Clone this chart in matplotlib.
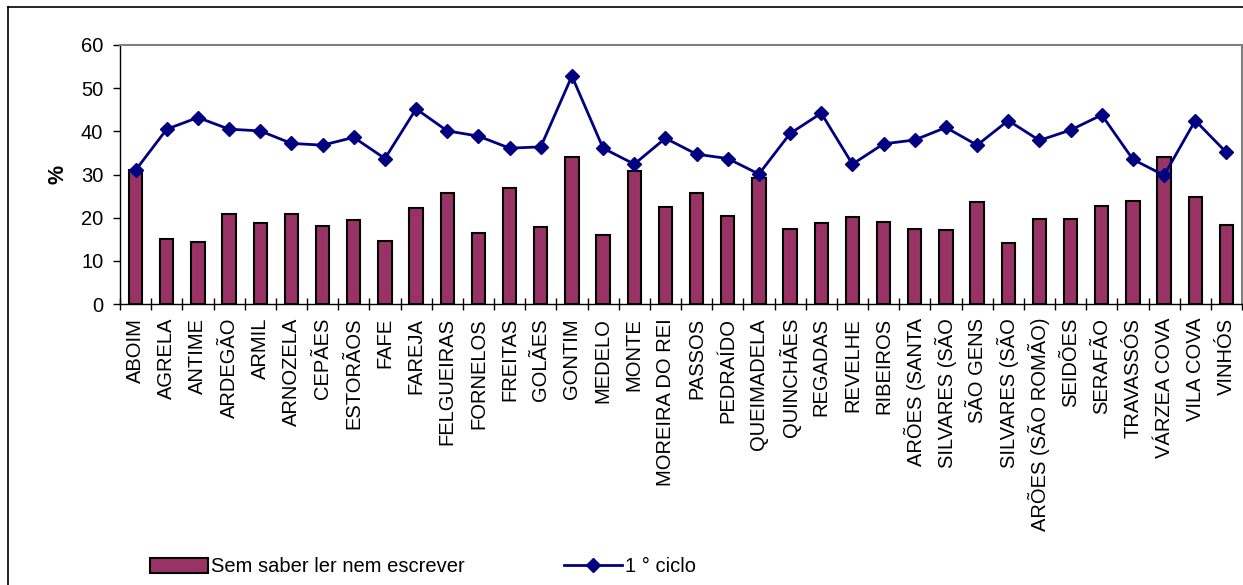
import numpy as np
import matplotlib
matplotlib.use("Agg")
import matplotlib.pyplot as plt
from matplotlib.lines import Line2D
from matplotlib.patches import Patch

plt.rcParams["font.family"] = ["Liberation Sans", "DejaVu Sans"]

freguesias = ["ABOIM", "AGRELA", "ANTIME", "ARDEGÃO", "ARMIL", "ARNOZELA", "CEPÃES",
              "ESTORÃOS", "FAFE", "FAREJA", "FELGUEIRAS", "FORNELOS", "FREITAS",
              "GOLÃES", "GONTIM", "MEDELO", "MONTE", "MOREIRA DO REI", "PASSOS",
              "PEDRAÍDO", "QUEIMADELA", "QUINCHÃES", "REGADAS", "REVELHE", "RIBEIROS",
              "ARÕES (SANTA", "SILVARES (SÃO", "SÃO GENS", "SILVARES (SÃO",
              "ARÕES (SÃO ROMÃO)", "SEIDÕES", "SERAFÃO", "TRAVASSÓS", "VÁRZEA COVA",
              "VILA COVA", "VINHÓS"]

sem_saber = [31.0, 15.0, 14.4, 20.8, 18.7, 20.9, 18.0, 19.5, 14.6, 22.2, 25.8, 16.4,
             26.9, 17.8, 34.1, 16.1, 30.9, 22.5, 25.8, 20.4, 29.1, 17.4, 18.8, 20.2,
             19.0, 17.3, 17.1, 23.6, 14.1, 19.8, 19.8, 22.6, 23.9, 34.1, 24.9, 18.3]

ciclo1 = [31.0, 40.5, 43.2, 40.5, 40.1, 37.2, 36.8, 38.6, 33.7, 45.2, 40.1, 38.9,
          36.1, 36.4, 52.8, 36.1, 32.4, 38.4, 34.7, 33.7, 30.1, 39.5, 44.2, 32.4,
          37.1, 38.0, 40.9, 36.8, 42.5, 37.9, 40.3, 43.8, 33.5, 29.8, 42.5, 35.1]

C_BAR  = "#993366"
C_LINE = "#000080"
FS = 14.5

W, H = 1243, 585
fig = plt.figure(figsize=(W / 100, H / 100), dpi=100)
ax = fig.add_axes([120 / W, 1 - 304 / H, (1242 - 120) / W, (304 - 45) / H])

x = np.arange(len(freguesias))
ax.bar(x, sem_saber, width=0.43, color=C_BAR, edgecolor="black", linewidth=1.5,
       zorder=2)
ax.plot(x, ciclo1, "-D", color=C_LINE, linewidth=2, markersize=7.5, zorder=3)

ax.set_xlim(-0.5, len(freguesias) - 0.5)
ax.set_ylim(0, 60)
ax.set_yticks(np.arange(0, 61, 10))
ax.set_xticks(x)
ax.set_xticklabels(freguesias, rotation=90, fontsize=FS)
ax.set_xticks(np.arange(-0.5, len(freguesias)), minor=True)
ax.tick_params(axis="x", which="major", length=0, pad=10)
ax.tick_params(axis="x", which="minor", direction="inout", length=8, width=1)
ax.tick_params(axis="y", labelsize=FS, length=5, width=1, pad=7)
ax.set_ylabel("%", fontsize=FS + 1, fontweight="bold", labelpad=9)

for s in ["top", "right"]:
    ax.spines[s].set_color("#808080")
    ax.spines[s].set_linewidth(1.5)
for s in ["left", "bottom"]:
    ax.spines[s].set_color("black")
    ax.spines[s].set_linewidth(1)

handles = [Patch(facecolor=C_BAR, edgecolor="black", linewidth=1.5),
           Line2D([], [], color=C_LINE, marker="D", linewidth=2, markersize=7.5)]
fig.legend(handles, ["Sem saber ler nem escrever", "1 ° ciclo"], ncol=2,
           loc="center left", bbox_to_anchor=(150 / W, 1 - 567 / H),
           frameon=False, fontsize=FS, handlelength=2.9, handletextpad=0.15,
           columnspacing=4.9, borderpad=0, borderaxespad=0)

# moldura exterior (so topo e lado esquerdo visiveis)
fig.add_artist(Line2D([8 / W, 1], [1 - 7 / H, 1 - 7 / H], color="black", linewidth=1.2,
                      transform=fig.transFigure))
fig.add_artist(Line2D([8 / W, 8 / W], [0, 1 - 7 / H], color="black", linewidth=1.2,
                      transform=fig.transFigure))

fig.savefig("out.png", dpi=100)
